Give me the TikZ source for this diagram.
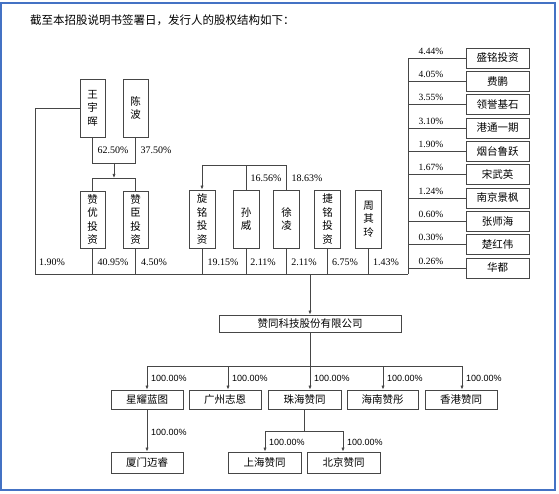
\documentclass[tikz,border=0pt]{standalone}
\usepackage{fontspec}
\setmainfont{Liberation Serif}
\newfontfamily\cjk{Noto Sans CJK SC}
\newfontfamily\arialf{Liberation Sans}
\usetikzlibrary{arrows.meta}
\definecolor{framblue}{RGB}{68,114,196}
\definecolor{linegray}{RGB}{70,70,70}
\begin{document}
\begin{tikzpicture}[x=1pt,y=-1pt,
  conn/.style={draw=linegray,line width=0.7pt},
  arr/.style={conn,-{Latex[length=4pt,width=3.2pt]}},
  box/.style={draw=linegray,line width=0.8pt,inner sep=0pt,align=center,
    font=\cjk\fontsize{10.5}{13.5}\selectfont},
  vbox/.style={box,minimum width=25pt,minimum height=58pt},
  hbox/.style={box,minimum width=63pt,minimum height=20pt},
  cbox/.style={box,minimum width=72pt,minimum height=19pt},
  pct/.style={inner sep=0pt,font=\fontsize{10}{12}\selectfont},
  rpct/.style={inner sep=0pt,font=\fontsize{9.5}{11}\selectfont},
  bpct/.style={inner sep=0pt,anchor=west,font=\arialf\fontsize{9}{11}\selectfont},
  title/.style={inner sep=0pt,anchor=west,font=\cjk\fontsize{11.5}{14}\selectfont}]
\useasboundingbox (0,0) rectangle (559,494);
\draw[framblue,line width=1.4pt] (1,3) rectangle (555,490);
\node[title] (title) at (30,20) {截至本招股说明书签署日，发行人的股权结构如下：};

% top-left shareholders
\node[vbox] (wyh) at (92.5,108) {王\\宇\\晖};
\node[vbox] (cb) at (135.5,108) {陈\\波};
\node[vbox,minimum height=57pt] (zy) at (92.5,219.5) {赞\\优\\投\\资};
\node[vbox,minimum height=57pt] (zc) at (135.5,219.5) {赞\\臣\\投\\资};
\coordinate (j1) at (92.5,163);
\coordinate (j2) at (135.5,163);
\coordinate (j3) at (114,163);
\coordinate (j4) at (114,178);
\coordinate (j5) at (92.5,178);
\coordinate (j6) at (135.5,178);
\draw[conn] (wyh.south) -- (j1) -- (j2) -- (cb.south);
\draw[arr] (j3) -- (j4);
\draw[conn] (zy.north) -- (j5) -- (j6) -- (zc.north);
\node[pct] (p6250) at (113,150) {62.50\%};
\node[pct] (p3750) at (156,150) {37.50\%};

% middle shareholders
\node[vbox,minimum width=26pt] (xm) at (202,219) {旋\\铭\\投\\资};
\node[vbox,minimum width=26pt] (sw) at (246,219) {孙\\威};
\node[vbox,minimum width=26pt] (xl) at (286.5,219) {徐\\凌};
\node[vbox,minimum width=26pt] (jm) at (327.5,219) {捷\\铭\\投\\资};
\node[vbox,minimum width=26pt] (zql) at (368.5,219) {周\\其\\玲};
\coordinate (m1) at (202,165);
\coordinate (m2) at (246,165);
\coordinate (m3) at (286.5,165);
\draw[conn] (sw.north) -- (m2);
\draw[conn] (xl.north) -- (m3) -- (m1);
\draw[arr] (m1) -- (xm.north);
\node[pct] (p1656) at (266,178) {16.56\%};
\node[pct] (p1863) at (307,178) {18.63\%};

% bus
\coordinate (bl) at (35,274);
\coordinate (lt) at (35,108);
\coordinate (br) at (408,274);
\coordinate (bm) at (310,274);
\draw[conn] (wyh.west) -- (lt) -- (bl) -- (br);
\foreach \n in {zy,zc,xm,sw,xl,jm,zql} \draw[conn] (\n.south) -- (\n.south |- bl);
\node[pct] (p190) at (52,262) {1.90\%};
\node[pct] (p4095) at (113,262) {40.95\%};
\node[pct] (p450) at (154,262) {4.50\%};
\node[pct] (p1915) at (223,262) {19.15\%};
\node[pct] (p211a) at (263,262) {2.11\%};
\node[pct] (p211b) at (304,262) {2.11\%};
\node[pct] (p675) at (345,262) {6.75\%};
\node[pct] (p143) at (386,262) {1.43\%};

% right shareholders
\coordinate (rt) at (408,58);
\draw[conn] (br) -- (rt);
\foreach \i/\nm/\p in {0/盛铭投资/4.44,1/费鹏/4.05,2/领誉基石/3.55,3/港通一期/3.10,4/烟台鲁跃/1.90,5/宋武英/1.67,6/南京景枫/1.24,7/张师海/0.60,8/楚红伟/0.30,9/华都/0.26}{
  \node[hbox] (r\i) at (497.5,58+23.33*\i) {\nm};
  \draw[conn] (r\i.west) -- (r\i.west -| rt);
  \node[rpct] (rp\i) at (431,51+23.33*\i) {\p\%};
}

% company
\node[box,minimum width=182pt,minimum height=17pt] (co) at (310,323.5) {赞同科技股份有限公司};
\draw[arr] (bm) -- (co.north);

% subsidiaries
\node[cbox] (xy) at (147,399.5) {星耀蓝图};
\node[cbox] (gz) at (225,399.5) {广州志恩};
\node[cbox,minimum width=73pt] (zh) at (304.5,399.5) {珠海赞同};
\node[cbox,minimum width=71pt] (hn) at (382.5,399.5) {海南赞彤};
\node[cbox] (hk) at (461,399.5) {香港赞同};
\coordinate (s0) at (310,366);
\coordinate (s1) at (147,366);
\coordinate (s2) at (228,366);
\coordinate (s3) at (383,366);
\coordinate (s4) at (462,366);
\draw[conn] (co.south) -- (s0);
\draw[conn] (s1) -- (s4);
\draw[arr] (s1) -- (s1 |- xy.north);
\draw[arr] (s2) -- (s2 |- gz.north);
\draw[arr] (s0) -- (s0 |- zh.north);
\draw[arr] (s3) -- (s3 |- hn.north);
\draw[arr] (s4) -- (s4 |- hk.north);
\node[bpct] (q1) at (151,378) {100.00\%};
\node[bpct] (q2) at (232,378) {100.00\%};
\node[bpct] (q3) at (314,378) {100.00\%};
\node[bpct] (q4) at (387,378) {100.00\%};
\node[bpct] (q5) at (466,378) {100.00\%};

% third level
\node[cbox,minimum height=21pt] (xm2) at (147,462.5) {厦门迈睿};
\node[cbox,minimum width=73pt,minimum height=21pt] (sh) at (264.5,462.5) {上海赞同};
\node[cbox,minimum width=73pt,minimum height=21pt] (bj) at (343.5,462.5) {北京赞同};
\draw[arr] (xy.south) -- (xm2.north);
\coordinate (t0) at (304,431);
\coordinate (t1) at (265,431);
\coordinate (t2) at (343,431);
\draw[conn] (t0 |- zh.south) -- (t0);
\draw[conn] (t1) -- (t2);
\draw[arr] (t1) -- (t1 |- sh.north);
\draw[arr] (t2) -- (t2 |- bj.north);
\node[bpct] (q6) at (151,432) {100.00\%};
\node[bpct] (q7) at (269,442) {100.00\%};
\node[bpct] (q8) at (347,442) {100.00\%};
\end{tikzpicture}
\end{document}
